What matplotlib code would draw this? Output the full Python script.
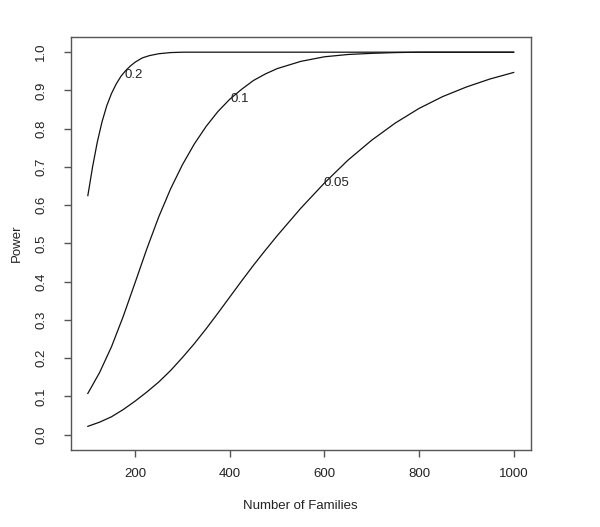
import numpy as np
import matplotlib
matplotlib.use("Agg")
import matplotlib.pyplot as plt

plt.rcParams["font.family"] = ["Liberation Sans", "DejaVu Sans"]

# power curves, one per effect size
n_02 = [100, 110, 120, 130, 140, 150, 160, 170, 180, 190, 200, 215, 230, 250, 275, 300,
        400, 600, 800, 1000]
pow_02 = [0.625, 0.70, 0.765, 0.818, 0.86, 0.892, 0.917, 0.937, 0.952, 0.964, 0.974, 0.985,
          0.991, 0.996, 0.999, 1.0, 1.0, 1.0, 1.0, 1.0]

n_01 = [100, 125, 150, 175, 200, 225, 250, 275, 300, 325, 350, 375, 400, 425, 450, 475, 500,
        550, 600, 650, 700, 750, 800, 900, 1000]
pow_01 = [0.108, 0.163, 0.230, 0.310, 0.398, 0.487, 0.57, 0.643, 0.706, 0.76, 0.806, 0.845,
          0.877, 0.903, 0.926, 0.943, 0.957, 0.976, 0.988, 0.994, 0.997, 0.999, 1.0, 1.0, 1.0]

n_005 = [100, 125, 150, 175, 200, 225, 250, 275, 300, 325, 350, 375, 400, 425, 450, 475, 500,
         550, 600, 650, 700, 750, 800, 850, 900, 950, 1000]
pow_005 = [0.022, 0.033, 0.047, 0.066, 0.088, 0.112, 0.138, 0.168, 0.202, 0.238, 0.277, 0.318,
           0.36, 0.402, 0.443, 0.482, 0.52, 0.592, 0.658, 0.718, 0.77, 0.815, 0.853, 0.884,
           0.909, 0.93, 0.947]

curve_labels = ["0.2", "0.1", "0.05"]
label_n = [177, 402, 598]
label_pow = [0.94, 0.878, 0.657]

xticks = [200, 400, 600, 800, 1000]
yticks = [0.0, 0.1, 0.2, 0.3, 0.4, 0.5, 0.6, 0.7, 0.8, 0.9, 1.0]

fig = plt.figure(figsize=(6.0, 5.27), dpi=100)
ax = fig.add_axes([0.118, 0.146, 0.7665, 0.784])

for xs, ys in [(n_02, pow_02), (n_01, pow_01), (n_005, pow_005)]:
    ax.plot(xs, ys, color="#111111", lw=0.9, solid_joinstyle="round")

for lab, xl, yl in zip(curve_labels, label_n, label_pow):
    ax.text(xl, yl, lab, ha="left", va="center", fontsize=9.5, color="#222222")

ax.set_xlim(64, 1036)
ax.set_ylim(-0.04, 1.04)
ax.set_xticks(xticks)
ax.set_xticklabels([str(t) for t in xticks])
ax.set_yticks(yticks)
ax.set_yticklabels([f"{t:.1f}" for t in yticks], rotation=90, va="center")

for s in ax.spines.values():
    s.set_color("#555555")
    s.set_linewidth(1.0)
ax.tick_params(axis="both", direction="out", length=5, width=1.0, color="#555555",
               labelsize=9.5, labelcolor="#222222")
ax.tick_params(axis="x", pad=8)
ax.tick_params(axis="y", pad=12)

ax.set_xlabel("Number of Families", fontsize=9.5, color="#222222", labelpad=14)
ax.set_ylabel("Power", fontsize=9.5, color="#222222", labelpad=9)

fig.savefig("out.png", dpi=100)
